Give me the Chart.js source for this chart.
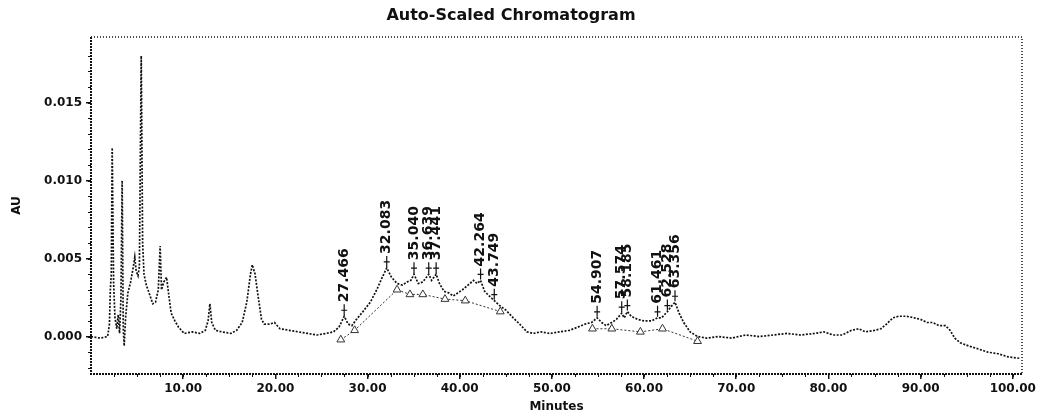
<!DOCTYPE html>
<html>
<head>
<meta charset="utf-8">
<script src="https://cdn.jsdelivr.net/npm/chart.js@4.4.1/dist/chart.umd.min.js"></script>
<style>
html,body{margin:0;padding:0;background:#fff;}
canvas{display:block;}
</style>
</head>
<body>
<canvas id="c" width="1041" height="417"></canvas>
<script>
// ---- data ----
const times = [0.0,1.0,1.8,2.0,2.1,2.2,2.3,2.45,2.6,2.8,2.95,3.1,3.25,3.38,3.5,3.6,3.75,4.0,4.3,4.6,4.75,4.9,5.1,5.25,5.45,5.6,5.75,6.0,6.3,6.7,7.0,7.3,7.5,7.65,7.9,8.2,8.45,8.7,9.1,9.5,10.1,11.0,11.8,12.4,12.7,12.9,13.1,13.5,14.2,15.2,15.8,16.4,16.9,17.3,17.5,17.8,18.1,18.5,18.8,19.4,19.9,20.5,21.5,22.5,23.5,24.5,25.5,26.3,26.9,27.47,27.9,28.3,28.8,29.5,30.3,31.0,31.6,32.08,32.6,33.2,33.8,34.3,34.7,35.04,35.5,36.0,36.64,36.95,37.44,37.8,38.3,38.8,39.3,39.8,40.3,40.9,41.5,41.9,42.26,42.7,43.2,43.75,44.3,45.0,45.8,46.5,47.3,48.0,48.8,49.8,50.8,51.9,52.8,53.6,54.3,54.91,55.4,55.9,56.5,57.0,57.57,57.85,58.19,58.6,59.3,60.0,60.8,61.46,61.9,62.53,62.9,63.36,63.8,64.3,65.0,65.8,66.8,68.0,69.5,71.0,72.5,74.0,75.5,77.0,78.5,79.5,80.5,81.5,82.5,83.3,84.0,85.0,85.7,86.3,87.0,87.6,88.5,89.3,90.0,90.7,91.3,92.0,92.7,93.2,93.7,94.3,95.2,96.3,97.3,98.4,99.5,100.8];
const absorbance = [0.0000,-0.0001,0.0000,0.0008,0.0030,0.0040,0.0121,0.0035,0.0012,0.0005,0.0014,0.0002,0.0025,0.0100,0.0005,-0.0006,0.0012,0.0028,0.0035,0.0045,0.0051,0.0042,0.0039,0.0045,0.0180,0.0060,0.0040,0.0033,0.0028,0.0021,0.0022,0.0030,0.0058,0.0030,0.0035,0.0038,0.0026,0.0015,0.0010,0.0006,0.0002,0.0003,0.0002,0.0004,0.0010,0.0021,0.0009,0.0004,0.0003,0.0002,0.0004,0.0009,0.0022,0.0040,0.0046,0.0040,0.0027,0.0011,0.0008,0.0008,0.0009,0.0005,0.0004,0.0003,0.0002,0.0001,0.0002,0.0003,0.0006,0.0013,0.0008,0.0007,0.0011,0.0016,0.0022,0.0030,0.0038,0.0044,0.0038,0.0034,0.0033,0.0035,0.0036,0.0040,0.0034,0.0035,0.0040,0.0036,0.0040,0.0034,0.0029,0.0028,0.0026,0.0028,0.0030,0.0033,0.0036,0.0034,0.0036,0.0029,0.0026,0.0023,0.0020,0.0017,0.0012,0.0008,0.0003,0.0002,0.0003,0.0002,0.0003,0.0004,0.0006,0.0008,0.0009,0.0012,0.0009,0.0007,0.0009,0.0011,0.0015,0.0012,0.0016,0.0013,0.0011,0.0010,0.0010,0.0012,0.0012,0.0016,0.0019,0.0022,0.0015,0.0009,0.0003,0.0000,-0.0001,0.0000,-0.0001,0.0001,0.0000,0.0001,0.0002,0.0001,0.0002,0.0003,0.0001,0.0001,0.0004,0.0005,0.0003,0.0004,0.0005,0.0008,0.0012,0.0013,0.0013,0.0012,0.0011,0.0009,0.0009,0.0007,0.0007,0.0004,-0.0001,-0.0004,-0.0006,-0.0008,-0.0010,-0.0011,-0.0013,-0.0014];

// integration baseline markers (null separates groups)
const baseTimes = [27.1,28.6,33.2,34.6,36.0,38.4,40.6,44.4,null,54.4,56.5,59.6,62.0,65.8];
const baseValues = [-0.0002,0.0004,0.0030,0.0027,0.0027,0.0024,0.0023,0.0016,null,0.0005,0.0005,0.0003,0.0005,-0.0003];

// labelled peaks
const peakTimes = [27.466,32.083,35.040,36.639,37.441,42.264,43.749,54.907,57.574,58.185,61.461,62.528,63.356];
const peakLabels = ["27.466","32.083","35.040","36.639","37.441","42.264","43.749","54.907","57.574","58.185","61.461","62.528","63.356"];
const peakApex = [0.0013,0.0044,0.0040,0.0040,0.0040,0.0036,0.0023,0.0012,0.0015,0.0016,0.0012,0.0016,0.0022];

const xTickValues = [10,20,30,40,50,60,70,80,90,100];
const yTickValues = [0.000,0.005,0.010,0.015];

const FONT = "'DejaVu Sans', sans-serif";
const INK = '#111';

const tracePoints = times.map((t,i)=>({x:t,y:absorbance[i]}));
const basePoints = baseTimes.map((t,i)=>({x:t===null?NaN:t,y:baseValues[i]}));

const framePlugin = {
  id:'frame',
  beforeDatasetsDraw(chart){
    const {ctx, chartArea:a, scales} = chart;
    ctx.save();
    ctx.strokeStyle = INK;
    ctx.lineWidth = 1;
    for(let v=-0.002; v<=0.019; v+=0.001){
      const y = Math.round(scales.y.getPixelForValue(v))+0.5;
      ctx.beginPath(); ctx.moveTo(a.left-3,y); ctx.lineTo(a.left,y); ctx.stroke();
    }
    for(let t=2.5; t<=100; t+=2.5){
      const x = Math.round(scales.x.getPixelForValue(t))+0.5;
      ctx.beginPath(); ctx.moveTo(x,a.bottom); ctx.lineTo(x,a.bottom+3); ctx.stroke();
    }
    ctx.setLineDash([2,1]);
    ctx.lineWidth = 2;
    ctx.beginPath();
    ctx.moveTo(a.left, a.top); ctx.lineTo(a.left, a.bottom); ctx.lineTo(a.right, a.bottom);
    ctx.stroke();
    ctx.setLineDash([1,2]);
    ctx.lineWidth = 1.5;
    ctx.beginPath();
    ctx.moveTo(a.left, a.top); ctx.lineTo(a.right, a.top); ctx.lineTo(a.right, a.bottom);
    ctx.stroke();
    ctx.restore();
  }
};

const peakLabelPlugin = {
  id:'peakLabels',
  afterDatasetsDraw(chart){
    const {ctx, scales} = chart;
    ctx.save();
    ctx.fillStyle = INK;
    ctx.strokeStyle = INK;
    ctx.lineWidth = 1.2;
    ctx.font = "bold 14px " + FONT;
    peakTimes.forEach((t,i)=>{
      const x = scales.x.getPixelForValue(t);
      const y = scales.y.getPixelForValue(peakApex[i]);
      ctx.beginPath();
      ctx.moveTo(x, y-1); ctx.lineTo(x, y-12);
      ctx.moveTo(x-3, y-6); ctx.lineTo(x+3, y-6);
      ctx.stroke();
      ctx.save();
      ctx.translate(x, y-14);
      ctx.rotate(-Math.PI/2);
      ctx.textAlign = 'left';
      ctx.textBaseline = 'middle';
      ctx.fillText(peakLabels[i], 0, 0);
      ctx.restore();
    });
    ctx.restore();
  }
};

new Chart(document.getElementById('c'), {
  type:'line',
  data:{
    datasets:[
      {
        label:'AU',
        data: tracePoints,
        borderColor: INK,
        borderWidth: 1.7,
        borderDash: [2,1.5],
        pointRadius: 0,
        tension: 0,
        fill: false
      },
      {
        label:'baseline',
        data: basePoints,
        borderColor: '#333',
        borderWidth: 1,
        borderDash: [2,2],
        pointStyle: 'triangle',
        pointRadius: 4.5,
        pointBackgroundColor: '#fff',
        pointBorderColor: '#333',
        pointBorderWidth: 1,
        spanGaps: false,
        tension: 0,
        fill: false
      }
    ]
  },
  options:{
    responsive:false,
    animation:false,
    layout:{padding:{left:0,right:19,top:0,bottom:0}},
    plugins:{
      legend:{display:false},
      tooltip:{enabled:false},
      title:{
        display:true,
        text:'Auto-Scaled Chromatogram',
        color: INK,
        font:{family:FONT, size:16, weight:'bold'},
        padding:{top:6,bottom:11.8}
      }
    },
    scales:{
      x:{
        type:'linear',
        min:0, max:101,
        afterFit(s){ s.height = 43; },
        afterBuildTicks(s){ s.ticks = xTickValues.map(v=>({value:v})); },
        grid:{display:true, drawOnChartArea:false, drawTicks:true, tickLength:5, color:INK, lineWidth:1.5},
        border:{display:false},
        ticks:{
          autoSkip:false, maxRotation:0, padding:3, color:INK,
          font:{family:FONT, size:12, weight:'bold'},
          callback:(v)=>Number(v).toFixed(2)
        },
        title:{display:true, text:'Minutes', color:INK, font:{family:FONT, size:12, weight:'bold'}, padding:{top:0,bottom:3}}
      },
      y:{
        type:'linear',
        min:-0.0024, max:0.0192,
        afterFit(s){ s.width = 91; },
        afterBuildTicks(s){ s.ticks = yTickValues.map(v=>({value:v})); },
        grid:{display:true, drawOnChartArea:false, drawTicks:true, tickLength:5, color:INK, lineWidth:1.5},
        border:{display:false},
        ticks:{
          padding:4, color:INK,
          font:{family:FONT, size:12, weight:'bold'},
          callback:(v)=>Number(v).toFixed(3)
        },
        title:{display:true, text:'AU', color:INK, font:{family:FONT, size:12, weight:'bold'}, padding:{top:10,bottom:0}}
      }
    }
  },
  plugins:[framePlugin, peakLabelPlugin]
});
</script>
</body>
</html>
